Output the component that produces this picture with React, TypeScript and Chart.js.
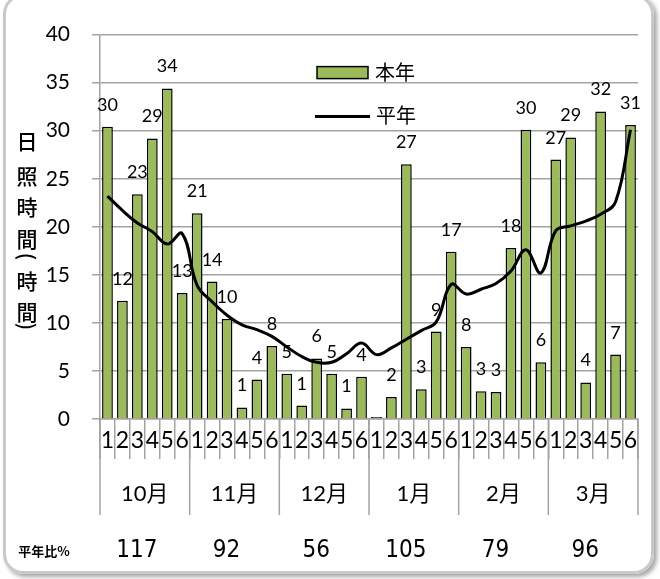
import React, { useEffect, useRef } from 'react';
import { Chart, registerables } from 'chart.js';

Chart.register(...registerables);

// ---- data ----
const weeks = ['1', '2', '3', '4', '5', '6'];
const months = ['10月', '11月', '12月', '1月', '2月', '3月'];
const categories = months.flatMap(() => weeks);

const thisYear = [
  30.4, 12.3, 23.4, 29.2, 34.4, 13.1,
  21.4, 14.3, 10.4, 1.2, 4.1, 7.6,
  4.7, 1.4, 6.3, 4.7, 1.1, 4.4,
  0.2, 2.3, 26.5, 3.1, 9.1, 17.4,
  7.5, 2.9, 2.8, 17.8, 30.1, 5.9,
  27.0, 29.3, 3.8, 32.0, 6.7, 30.6,
];

const normalYear = [
  23.2, 21.7, 20.4, 19.5, 18.2, 19.3,
  13.9, 12.2, 10.8, 9.8, 9.3, 8.6,
  7.5, 6.5, 5.9, 5.9, 6.8, 7.9,
  6.7, 7.4, 8.3, 9.2, 10.1, 14.0,
  13.0, 13.5, 14.1, 15.4, 17.6, 15.2,
  19.6, 20.1, 20.6, 21.3, 22.6, 30.1,
];

const ratioPercent = ['117', '92', '56', '105', '79', '96'];
const ratioTitle = '平年比%';
const yTitleChars = ['日', '照', '時', '間', '(', '時', '間', ')'];
const seriesNames = ['本年', '平年'];
const yTicks = { min: 0, max: 40, step: 5 };

// ---- styles ----
const GREEN = '#9BBB59';
const GRID = '#a3a3a3';
const NUM_FONT = 'Lato, "Noto Sans", sans-serif';
const JP_FONT = 'Lato, "Noto Sans CJK JP", sans-serif';

const decorPlugin = {
  id: 'decor',
  afterDatasetsDraw(chart: any) {
    const { ctx } = chart;
    const meta = chart.getDatasetMeta(0);
    ctx.save();
    ctx.font = `18px ${NUM_FONT}`;
    ctx.fillStyle = '#000';
    ctx.textAlign = 'center';
    ctx.textBaseline = 'alphabetic';
    meta.data.forEach((el: any, i: number) => {
      const r = Math.round(thisYear[i]);
      if (r <= 0) return;
      ctx.fillText(String(r), el.x, el.y - 16);
    });
    ctx.restore();
  },
  afterDraw(chart: any) {
    const { ctx, chartArea } = chart;
    const x = chart.scales.x;
    const half = (x.getPixelForValue(1) - x.getPixelForValue(0)) / 2;
    const bottom = chartArea.bottom;
    ctx.save();
    // month separators
    ctx.strokeStyle = GRID;
    ctx.lineWidth = 1.5;
    for (let m = 0; m <= months.length; m++) {
      const px = m < months.length ? x.getPixelForValue(m * 6) - half : x.getPixelForValue(m * 6 - 1) + half;
      ctx.beginPath();
      ctx.moveTo(px, bottom);
      ctx.lineTo(px, bottom + 96);
      ctx.stroke();
    }
    // month labels and ratio
    ctx.fillStyle = '#000';
    ctx.textAlign = 'center';
    ctx.textBaseline = 'middle';
    months.forEach((mo, m) => {
      const cx = (x.getPixelForValue(m * 6) + x.getPixelForValue(m * 6 + 5)) / 2;
      ctx.font = `22px ${JP_FONT}`;
      ctx.fillText(mo, cx, bottom + 75);
      ctx.font = `24px "Liberation Sans Narrow", "DejaVu Sans Condensed", sans-serif`;
      ctx.fillText(ratioPercent[m], cx - 8, bottom + 132);
    });
    ctx.font = `bold 13px "Noto Sans CJK JP", sans-serif`;
    ctx.fillText(ratioTitle, 44, bottom + 132);

    // vertical y title (parentheses turned to vertical form)
    ctx.font = `500 21px "Noto Sans CJK JP", sans-serif`;
    const offs = [106, 141, 172, 204, 222, 246, 277, 292];
    yTitleChars.forEach((c, i) => {
      const cy = chartArea.top + offs[i];
      if (c === '(' || c === ')') {
        ctx.save();
        ctx.translate(27, cy);
        ctx.rotate(Math.PI / 2);
        ctx.fillText(c, 0, 0);
        ctx.restore();
      } else {
        ctx.fillText(c, 27, cy);
      }
    });

    // legend
    const lx = chartArea.left;
    const ty = chartArea.top;
    ctx.fillStyle = GREEN;
    ctx.fillRect(lx + 217, ty + 32, 51, 12);
    ctx.strokeStyle = '#000';
    ctx.lineWidth = 1.5;
    ctx.strokeRect(lx + 217, ty + 32, 51, 12);
    ctx.beginPath();
    ctx.lineWidth = 3;
    ctx.moveTo(lx + 215, ty + 82);
    ctx.lineTo(lx + 270, ty + 82);
    ctx.stroke();
    ctx.fillStyle = '#000';
    ctx.textAlign = 'left';
    ctx.font = `20px "Noto Sans CJK JP", sans-serif`;
    ctx.fillText(seriesNames[0], lx + 275, ty + 38);
    ctx.fillText(seriesNames[1], lx + 276, ty + 81);
    ctx.restore();
  },
};

export default function App() {
  const ref = useRef<HTMLCanvasElement>(null);
  useEffect(() => {
    const canvas = ref.current;
    if (!canvas) return;
    const chart = new Chart(canvas, {
      type: 'bar',
      data: {
        labels: categories,
        datasets: [
          {
            type: 'bar',
            label: seriesNames[0],
            data: thisYear,
            backgroundColor: GREEN,
            borderColor: '#000',
            borderWidth: 1.5,
            barPercentage: 0.72,
            categoryPercentage: 1,
            order: 2,
          },
          {
            type: 'line',
            label: seriesNames[1],
            data: normalYear,
            borderColor: '#000',
            borderWidth: 3,
            pointRadius: 0,
            tension: 0.4,
            fill: false,
            order: 1,
          } as any,
        ],
      },
      options: {
        responsive: false,
        devicePixelRatio: 1,
        animation: false,
        layout: { padding: { left: 0, right: 22, top: 26, bottom: 0 } },
        plugins: {
          legend: { display: false },
          tooltip: { enabled: false },
          title: { display: false },
        },
        scales: {
          x: {
            type: 'category',
            offset: true,
            grid: {
              offset: true,
              drawOnChartArea: false,
              drawTicks: true,
              tickLength: 40,
              color: GRID,
              lineWidth: 1.5,
            },
            border: { color: GRID, width: 1.5 },
            ticks: {
              autoSkip: false,
              maxRotation: 0,
              minRotation: 0,
              padding: -32,
              color: '#000',
              font: { family: NUM_FONT, size: 23 },
            },
            afterFit: (s: any) => {
              s.height = 160;
            },
          },
          y: {
            min: yTicks.min,
            max: yTicks.max,
            ticks: {
              stepSize: yTicks.step,
              padding: 22,
              color: '#000',
              font: { family: NUM_FONT, size: 21 },
            },
            grid: { color: GRID, lineWidth: 1.5, tickLength: 8, drawTicks: true },
            border: { color: GRID, width: 1.5 },
            afterFit: (s: any) => {
              s.width = 100;
            },
          },
        },
      },
      plugins: [decorPlugin],
    });
    return () => chart.destroy();
  }, []);

  return (
    <div style={{ position: 'absolute', left: 0, top: 0, width: 660, height: 579, background: '#fff', overflow: 'hidden' }}>
      <div
        style={{
          position: 'absolute',
          left: 3,
          top: -6,
          width: 651,
          height: 580,
          boxSizing: 'border-box',
          border: '3px solid #c9c9c9',
          borderRadius: 20,
          boxShadow: '3px 3px 4px rgba(0,0,0,0.35)',
        }}
      />
      <canvas ref={ref} width={660} height={579} style={{ position: 'absolute', left: 0, top: 0, width: 660, height: 579 }} />
    </div>
  );
}
